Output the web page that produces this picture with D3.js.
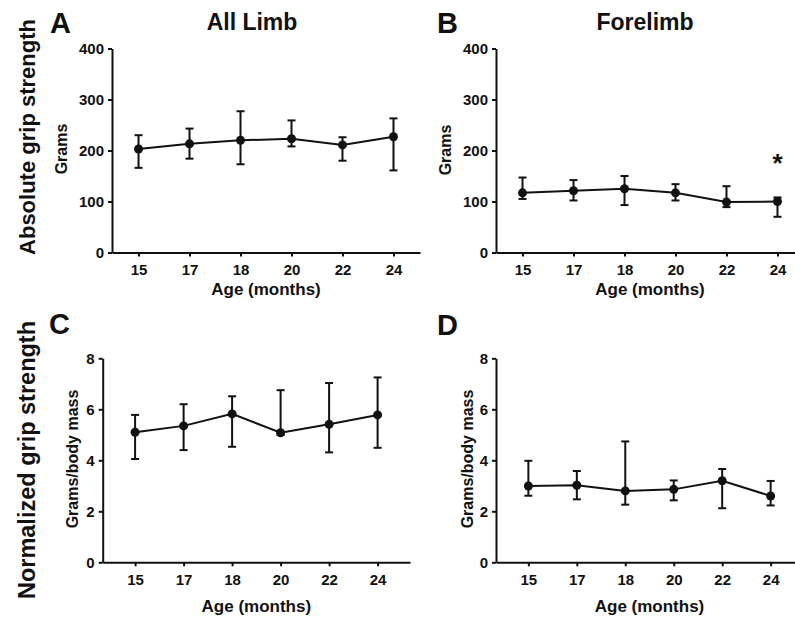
<!DOCTYPE html>
<html>
<head>
<meta charset="utf-8">
<script src="https://cdn.jsdelivr.net/npm/d3@7"></script>
<style>
  body { margin: 0; background: #fff; }
  text { font-family: "Liberation Sans", Arial, sans-serif; font-weight: bold; fill: #111; }
</style>
</head>
<body>
<div id="chart"></div>
<script>
// ages (categorical, equally spaced)
const ages = ['15', '17', '18', '20', '22', '24']

// A: all limb, absolute (grams)
const allAbsMean = [203, 213, 220, 223, 211, 227]
const allAbsHi = [230, 243, 277, 259, 226, 263]
const allAbsLo = [166, 184, 173, 208, 180, 161]

// B: forelimb, absolute (grams)
const foreAbsMean = [117, 121, 125, 117, 99, 100]
const foreAbsHi = [147, 142, 150, 134, 130, 108]
const foreAbsLo = [105, 102, 93, 102, 89, 70]

// C: all limb, normalized (grams/body mass)
const allNormMean = [5.1, 5.35, 5.82, 5.08, 5.41, 5.78]
const allNormHi = [5.78, 6.2, 6.51, 6.75, 7.03, 7.25]
const allNormLo = [4.05, 4.4, 4.53, 5.0, 4.31, 4.49]

// D: forelimb, normalized (grams/body mass)
const foreNormMean = [2.99, 3.02, 2.8, 2.86, 3.2, 2.6]
const foreNormHi = [3.98, 3.58, 4.74, 3.21, 3.66, 3.19]
const foreNormLo = [2.61, 2.47, 2.26, 2.43, 2.12, 2.23]

const absTicks = [0, 100, 200, 300, 400]
const normTicks = [0, 2, 4, 6, 8]

const width = 795
const height = 623

const svg = d3
  .select('#chart')
  .append('svg')
  .attr('width', width)
  .attr('height', height)

function drawPanel(p) {
  const x = d3.scalePoint().domain(ages).range([p.x0, p.x1]).padding(p.pad)
  const y = d3.scaleLinear().domain([p.ticks[0], p.ticks[p.ticks.length - 1]]).range([p.y0, p.y1])
  const g = svg.append('g')

  // axes
  const xAxis = g
    .append('g')
    .attr('transform', `translate(0, ${p.y0})`)
    .call(d3.axisBottom(x).tickSize(4).tickSizeOuter(0).tickPadding(8))
  const yAxis = g
    .append('g')
    .attr('transform', `translate(${p.x0}, 0)`)
    .call(d3.axisLeft(y).tickValues(p.ticks).tickSize(4).tickSizeOuter(0).tickPadding(4))
  ;[xAxis, yAxis].forEach((a) => {
    a.select('.domain').attr('stroke', '#111').attr('stroke-width', 2)
    a.selectAll('.tick line').attr('stroke', '#111').attr('stroke-width', 2)
    a.selectAll('.tick text').style('font-size', '15px').style('font-family', '"Liberation Sans", Arial, sans-serif').style('font-weight', 'bold').attr('fill', '#111')
  })

  const rows = ages.map((a, i) => ({ age: a, m: p.mean[i], hi: p.hi[i], lo: p.lo[i] }))

  // error bars
  const eb = g.append('g').attr('stroke', '#111').attr('stroke-width', 2)
  eb.selectAll('line.v')
    .data(rows)
    .join('line')
    .attr('class', 'v')
    .attr('x1', (d) => x(d.age))
    .attr('x2', (d) => x(d.age))
    .attr('y1', (d) => y(d.lo))
    .attr('y2', (d) => y(d.hi))
  eb.selectAll('line.top')
    .data(rows)
    .join('line')
    .attr('class', 'top')
    .attr('x1', (d) => x(d.age) - 4)
    .attr('x2', (d) => x(d.age) + 4)
    .attr('y1', (d) => y(d.hi))
    .attr('y2', (d) => y(d.hi))
  eb.selectAll('line.bot')
    .data(rows)
    .join('line')
    .attr('class', 'bot')
    .attr('x1', (d) => x(d.age) - 4)
    .attr('x2', (d) => x(d.age) + 4)
    .attr('y1', (d) => y(d.lo))
    .attr('y2', (d) => y(d.lo))

  // mean line + points
  g.append('path')
    .datum(rows)
    .attr('fill', 'none')
    .attr('stroke', '#111')
    .attr('stroke-width', 2)
    .attr('d', d3.line().x((d) => x(d.age)).y((d) => y(d.m)))
  g.selectAll('circle')
    .data(rows)
    .join('circle')
    .attr('cx', (d) => x(d.age))
    .attr('cy', (d) => y(d.m))
    .attr('r', 4.5)
    .attr('fill', '#111')

  // labels
  g.append('text')
    .attr('x', (p.x0 + p.x1) / 2)
    .attr('y', p.y0 + p.xLabelOff)
    .attr('text-anchor', 'middle')
    .style('font-size', '17px')
    .text('Age (months)')
  g.append('text')
    .attr('transform', `translate(${p.yLabelX}, ${p.yLabelY}) rotate(-90)`)
    .attr('text-anchor', 'middle')
    .style('font-size', '16px')
    .text(p.yLabel)
  g.append('text')
    .attr('x', p.letterX)
    .attr('y', p.letterY)
    .style('font-size', '29px')
    .text(p.letter)

  if (p.star) {
    g.append('text')
      .attr('x', x(p.star))
      .attr('y', y(p.starY))
      .attr('text-anchor', 'middle')
      .style('font-size', '26px')
      .text('*')
  }
}

drawPanel({
  x0: 112, x1: 420, y0: 252.5, y1: 48.5, pad: 0.52, ticks: absTicks,
  mean: allAbsMean, hi: allAbsHi, lo: allAbsLo,
  xLabelOff: 42, yLabel: 'Grams', yLabelX: 67, yLabelY: 149,
  letter: 'A', letterX: 50, letterY: 33,
})
drawPanel({
  x0: 496, x1: 804, y0: 252.5, y1: 48.5, pad: 0.52, ticks: absTicks,
  mean: foreAbsMean, hi: foreAbsHi, lo: foreAbsLo,
  xLabelOff: 42, yLabel: 'Grams', yLabelX: 451, yLabelY: 150,
  letter: 'B', letterX: 437, letterY: 33,
  star: '24', starY: 158,
})
drawPanel({
  x0: 102.7, x1: 410, y0: 562.3, y1: 358.3, pad: 0.668, ticks: normTicks,
  mean: allNormMean, hi: allNormHi, lo: allNormLo,
  xLabelOff: 50, yLabel: 'Grams/body mass', yLabelX: 77.5, yLabelY: 459,
  letter: 'C', letterX: 49, letterY: 334,
})
drawPanel({
  x0: 496, x1: 803, y0: 562.3, y1: 358.3, pad: 0.668, ticks: normTicks,
  mean: foreNormMean, hi: foreNormHi, lo: foreNormLo,
  xLabelOff: 50, yLabel: 'Grams/body mass', yLabelX: 472.5, yLabelY: 459,
  letter: 'D', letterX: 437, letterY: 335,
})

// column titles
svg.append('text').attr('x', 252).attr('y', 30).attr('text-anchor', 'middle').style('font-size', '23px').text('All Limb')
svg.append('text').attr('x', 645).attr('y', 30).attr('text-anchor', 'middle').style('font-size', '23px').text('Forelimb')

// row titles
svg.append('text')
  .attr('transform', 'translate(35, 137) rotate(-90)')
  .attr('text-anchor', 'middle')
  .style('font-size', '22px')
  .text('Absolute grip strength')
svg.append('text')
  .attr('transform', 'translate(35, 460) rotate(-90)')
  .attr('text-anchor', 'middle')
  .style('font-size', '23.5px')
  .text('Normalized grip strength')
</script>
</body>
</html>
